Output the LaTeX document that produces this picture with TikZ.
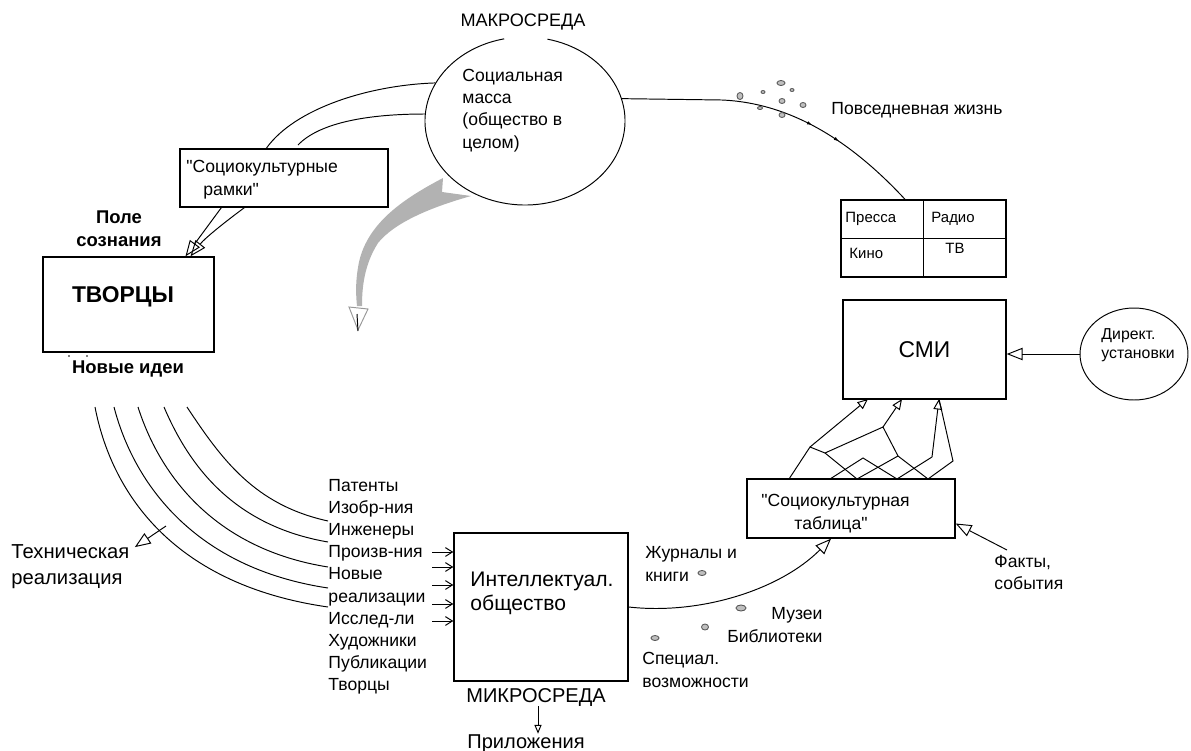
\documentclass[tikz,border=0pt]{standalone}
\usepackage{fontspec}
\setmainfont{Liberation Sans}
\usetikzlibrary{arrows.meta,positioning,calc,shapes.geometric,decorations.markings}
\tikzset{
  box/.style={draw, line width=0.8pt, inner sep=0pt},
  txt/.style={inner sep=0pt, align=left, font=\fontsize{10}{13}\selectfont},
  tabtxt/.style={inner sep=0pt, anchor=base west, font=\fontsize{8.5}{10}\selectfont},
  hollow/.style={-{Triangle[open,length=9pt,width=7pt]}},
  hsmall/.style={-{Triangle[open,length=6pt,width=5pt]}},
  vee/.style={-{Straight Barb[length=4pt,width=5pt]}},
  spot/.style={draw=black!65, fill=black!25, line width=0.5pt},
}
\begin{document}
\begin{tikzpicture}[x=0.02cm, y=-0.02cm, line width=0.55pt]
\useasboundingbox (0,0) rectangle (1191,751);

\node[inner sep=0pt, font=\fontsize{10.3}{12}\selectfont] (macro) at (523,22) {МАКРОСРЕДА};
\node[ellipse, minimum width=4cm, minimum height=3.36cm, inner sep=0pt] (mass) at (525,121) {};
\draw (mass.center) ++(283:100 and 84) arc[start angle=283, end angle=618, x radius=100, y radius=84];
\node[txt, anchor=base west, font=\fontsize{10}{12.6}\selectfont] (masst) at (462,148) {Социальная\\масса\\(общество в\\целом)};

\node[box, minimum width=4.16cm, minimum height=1.16cm] (sr) at (284,178) {};
\node[txt, anchor=base west] (srt) at (186,195) {\textquotedbl Социокультурные\\\hspace*{0.34cm}рамки\textquotedbl};
\coordinate (srend) at (298,145);
\draw (mass.157) .. controls (370,85) and (295,108) .. ($(sr.north west)+(87,0)$);
\draw (mass.176) .. controls (370,114) and (320,122) .. (srend);

\node[inner sep=0pt, align=center, anchor=base, font=\bfseries\fontsize{10.5}{13}\selectfont] (field) at (119,246) {Поле\\сознания};
\node[box, minimum width=3.42cm, minimum height=1.9cm] (tv) at (128.5,304.5) {};
\node[inner sep=0pt, font=\bfseries\fontsize{13}{15}\selectfont] (tvt) at (123,297) {ТВОРЦЫ};
\node[inner sep=0pt, anchor=base, font=\bfseries\fontsize{10.5}{13}\selectfont] (ideas) at (128,373) {Новые идеи};
\fill (69,356) circle (0.9) (87,356) circle (0.9);
\draw[hollow] ($(sr.south west)+(42,0)$) -- ($(tv.north)+(57,0)$);
\draw[hollow] ($(sr.south west)+(65,0)$) .. controls (225,222) and (205,238) .. ($(tv.north)+(62,0)$);

\fill[black!30] (443,178) .. controls (405,198) and (368,222) .. (359,262) .. controls (355,282) and (356,296) .. (357,306) -- (362,306) .. controls (362,288) and (364,265) .. (378,243) .. controls (395,222) and (432,207) .. (471,196) -- (442,192) -- cycle;
\draw[black!40] (349,307) -- (368,309) -- (358,330) -- cycle;
\draw (357,314) -- (358,331);

\foreach \xs/\ye/\ax/\ay/\bx/\by [count=\i] in {95/607/112/495/175/585, 114/588/134/484/195/568, 138/567/160/476/215/549, 164/542/190/468/235/526, 187/521/222/460/255/505}{
  \coordinate (s\i) at (\xs,407);
  \coordinate (e\i) at (328,\ye);
  \draw (s\i) .. controls (\ax,\ay) and (\bx,\by) .. (e\i);
}
\node[inner sep=0pt, align=left, anchor=base west, font=\fontsize{11.5}{14.8}\selectfont] (tech) at (11,584) {Техническая\\реализация};
\coordinate (tr) at (166,526);
\draw[hollow] (tr) -- ($(tech.north east)+(5,3.5)$);

\foreach \w [count=\i] in {Патенты,Изобр-ния,Инженеры,Произв-ния,Новые,реализации,Исслед-ли,Художники,Публикации,Творцы}
  \node[txt, anchor=base west] (li\i) at (328,{491+22.2*(\i-1)}) {\w};

\node[box, minimum width=3.48cm, minimum height=2.96cm] (intel) at (541,607) {};
\node[inner sep=0pt, align=left, anchor=base west, font=\fontsize{12}{13.2}\selectfont] (intelt) at (470,610) {Интеллектуал.\\общество};
\foreach \y in {552,567,585,604,621}{
  \coordinate (a) at (432,\y);
  \draw[vee] (a) -- (a -| intel.west);
}
\node[inner sep=0pt, font=\fontsize{11.4}{13}\selectfont] (micro) at (536,697) {МИКРОСРЕДА};
\node[inner sep=0pt, anchor=base, font=\fontsize{11.4}{13}\selectfont] (app) at (526,748) {Приложения};
\draw[-{Triangle[open,length=5pt,width=4pt]}] ($(micro.south)+(2,0)$) -- ($(micro.south |- app.north)+(2,0)$);

\node[txt, anchor=base west] (jour) at (645,581) {Журналы и\\книги};
\node[txt, anchor=base east, align=right] (mus) at (823,642) {Музеи\\Библиотеки};
\node[txt, anchor=base west] (spec) at (642,687) {Специал.\\возможности};
\filldraw[spot] (702,573) ellipse (4 and 2.5) (741,608) ellipse (5 and 3) (705,627) ellipse (3.5 and 3) (655,638) ellipse (4 and 2.5);

\node[box, minimum width=4.16cm, minimum height=1.18cm] (st) at (851,508.5) {};
\node[txt, anchor=base west, font=\fontsize{10}{12.6}\selectfont] (stt) at (761,529) {\textquotedbl Социокультурная\\\hspace*{0.66cm}таблица\textquotedbl};
\draw[hollow] (intel.east) .. controls (700,615) and (780,590) .. ($(st.south)+(-20,0)$);
\node[txt, anchor=base west, font=\fontsize{10}{12}\selectfont] (fact) at (994,589) {Факты,\\события};
\coordinate (fs) at (1007,550);
\draw[hollow] (fs) -- ($(st.east)+(0,15)$);

\node[box, minimum width=3.26cm, minimum height=1.98cm, font=\fontsize{13}{15}\selectfont] (smi) at (924.5,349.5) {СМИ};
\node[draw, ellipse, minimum width=2.16cm, minimum height=1.84cm, inner sep=0pt] (dir) at (1134,354) {};
\node[inner sep=0pt, align=left, anchor=base west, font=\fontsize{9}{10.3}\selectfont] (dirt) at (1101,358) {Директ.\\установки};
\draw[hollow] (dir.west) -- (dir.west -| smi.east);

\node[box, minimum width=3.3cm, minimum height=1.54cm] (media) at (923.5,238.5) {};
\draw[line width=0.8pt] (media.north) -- (media.south) (media.west) -- (media.east);
\node[tabtxt] (press) at (845,222) {Пресса};
\node[tabtxt] (radio) at (931,222) {Радио};
\node[tabtxt] (kino) at (849,258) {Кино};
\node[tabtxt] (tvch) at (945,253) {ТВ};

\draw[postaction={decorate}, decoration={markings,
    mark=at position 0.62 with {\arrow{Latex[length=3pt,width=2pt]}},
    mark=at position 0.72 with {\arrow{Latex[length=3pt,width=2pt]}}}]
  (mass.13) -- (722,100) .. controls (790,103) and (850,140) .. ($(media.north)+(-18.5,0)$);
\filldraw[spot] (740,96) ellipse (3 and 3.5) (763,92) ellipse (2 and 1.5) (781,83) ellipse (4 and 2.5) (792,90) ellipse (2 and 1.5)
  (782,101) ellipse (3 and 2.5) (803,105) ellipse (3 and 2.5) (760,108) ellipse (2.5 and 1.5) (782,115) ellipse (3 and 2.5);
\node[txt, anchor=base west] (daily) at (831,114) {Повседневная жизнь};

\coordinate (t1) at (868,399); \coordinate (t2) at (902,399); \coordinate (t3) at (939,399);
\coordinate (nb) at (810,447); \coordinate (nc) at (825,453); \coordinate (nd) at (883,427);
\coordinate (ne) at (898,456); \coordinate (nh) at (863,458); \coordinate (nf) at (932,457); \coordinate (ng) at (953,461);
\coordinate (p1) at (789,479); \coordinate (p2) at (830,479); \coordinate (p3) at (857,479);
\coordinate (p4) at (897,479); \coordinate (p5) at (928,479);
\draw (p1) -- (nb) -- (nc) -- (nd) -- (ne) -- (p5) -- (ng) -- (t3);
\draw (nc) -- (p3) -- (ne);
\draw (p2) -- (nh) -- (p4) -- (nf);
\draw[hsmall] (nb) -- (t1);
\draw[hsmall] (nd) -- (t2);
\draw[hsmall] (nf) -- (t3);
\end{tikzpicture}
\end{document}
